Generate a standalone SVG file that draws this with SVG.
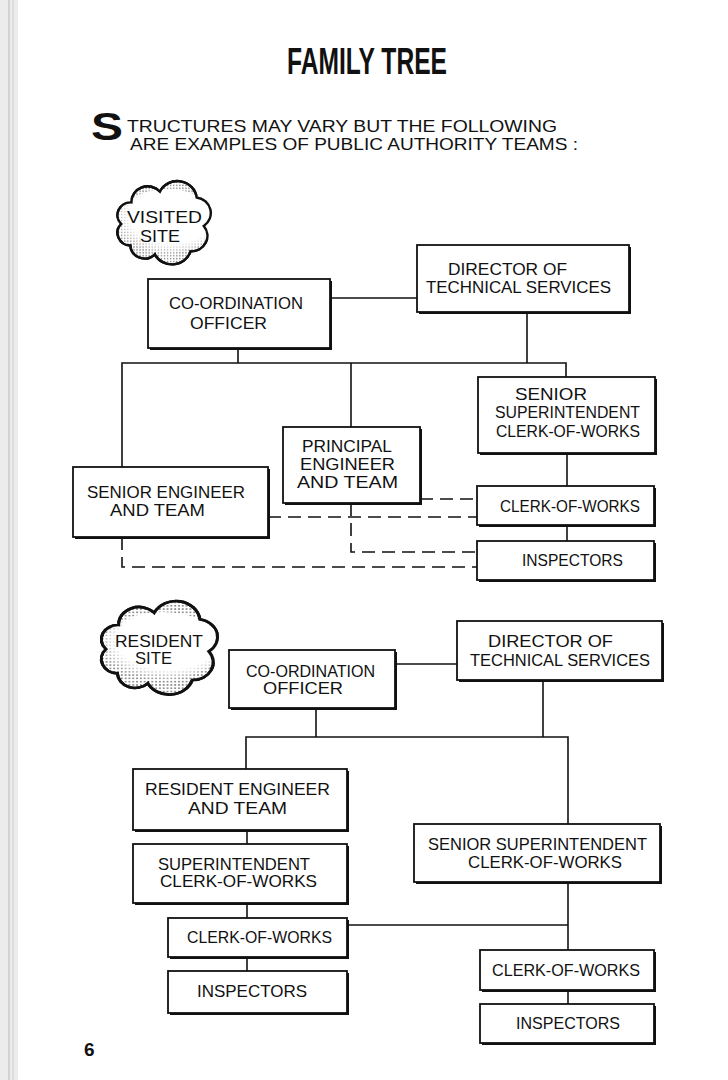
<svg xmlns="http://www.w3.org/2000/svg" width="728" height="1080" viewBox="0 0 728 1080">
<style>
.t{font-family:"Liberation Sans",Arial,sans-serif;font-size:17px;fill:#111}
.box{fill:#fff;stroke:#111;stroke-width:1.8}
.sh{fill:#111}
.ln{fill:none;stroke:#111;stroke-width:1.6}
.dash{fill:none;stroke:#111;stroke-width:1.6;stroke-dasharray:13 7}
.cloud{fill:url(#dots);stroke:#111;stroke-width:2.4;vector-effect:non-scaling-stroke}
</style>
<defs>
<pattern id="dots" width="3" height="3" patternUnits="userSpaceOnUse">
<rect width="3" height="3" fill="#fff"/>
<circle cx="1.5" cy="1.5" r="0.8" fill="#777"/>
</pattern>
<radialGradient id="wash" cx="0.55" cy="0.42" r="0.6">
<stop offset="0.7" stop-color="#fff" stop-opacity="1"/>
<stop offset="1" stop-color="#fff" stop-opacity="0"/>
</radialGradient>
<path id="cl" d="M-32,24 A13,13 0 0 1 -41,2 A13,13 0 0 1 -31,-20 A16,16 0 0 1 -3,-31 A19,19 0 0 1 33,-25 A16,16 0 0 1 40,4 A16,16 0 0 1 27,30 A19,19 0 0 1 -8,33 A14,14 0 0 1 -32,24 Z"/>
</defs>
<rect width="728" height="1080" fill="#fff"/>
<rect x="0" y="0" width="18" height="1080" fill="#ececec"/>
<line x1="9" y1="0" x2="9" y2="1080" stroke="#bbb" stroke-width="1"/>
<line x1="13" y1="0" x2="13" y2="1080" stroke="#d0d0d0" stroke-width="1"/>

<text class="t" x="287" y="74" style="font-size:36px;font-weight:bold" textLength="160" lengthAdjust="spacingAndGlyphs">FAMILY TREE</text>
<text class="t" x="91" y="140" style="font-size:38px;font-weight:bold" textLength="32" lengthAdjust="spacingAndGlyphs">S</text>
<text class="t" x="127" y="132" textLength="430" lengthAdjust="spacingAndGlyphs">TRUCTURES  MAY  VARY  BUT  THE  FOLLOWING</text>
<text class="t" x="130" y="150" textLength="448" lengthAdjust="spacingAndGlyphs">ARE  EXAMPLES  OF  PUBLIC  AUTHORITY  TEAMS :</text>

<g id="connectors">
<path class="ln" d="M330,298 H417"/>
<path class="ln" d="M238,348 V363"/>
<path class="ln" d="M527,312 V363"/>
<path class="ln" d="M122,467 V363 H566 V377"/>
<path class="ln" d="M351,363 V427"/>
<path class="ln" d="M567,453 V486"/>
<path class="ln" d="M567,525 V541"/>
<path class="dash" d="M420,499 H477"/>
<path class="dash" d="M268,517 H477"/>
<path class="dash" d="M351,503 V552 H477"/>
<path class="dash" d="M122,537 V567 H477"/>
<path class="ln" d="M395,664 H457"/>
<path class="ln" d="M316,708 V737"/>
<path class="ln" d="M543,680 V737"/>
<path class="ln" d="M246,769 V737 H568 V824"/>
<path class="ln" d="M247,830 V844"/>
<path class="ln" d="M247,903 V918"/>
<path class="ln" d="M247,957 V971"/>
<path class="ln" d="M347,925 H568"/>
<path class="ln" d="M568,882 V950"/>
<path class="ln" d="M568,990 V1004"/>
</g>

<g id="cloud-visited">
<use href="#cl" class="cloud" transform="translate(163,222) scale(1.02,0.98)"/>
<ellipse cx="167" cy="221" rx="50" ry="32" fill="url(#wash)"/>
<use href="#cl" fill="none" stroke="#111" stroke-width="2.4" transform="translate(163,222) scale(1.02,0.98)" style="vector-effect:non-scaling-stroke"/>
<text class="t" x="127" y="223" textLength="75" lengthAdjust="spacingAndGlyphs">VISITED</text>
<text class="t" x="140" y="242" textLength="40" lengthAdjust="spacingAndGlyphs">SITE</text>
</g>

<g id="coord1">
<rect class="sh" x="150" y="281" width="182" height="69"/>
<rect class="box" x="148" y="279" width="182" height="69"/>
<text class="t" x="169" y="309" textLength="134" lengthAdjust="spacingAndGlyphs">CO-ORDINATION</text>
<text class="t" x="190" y="329" textLength="77" lengthAdjust="spacingAndGlyphs">OFFICER</text>
</g>

<g id="director1">
<rect class="sh" x="419" y="247" width="212" height="67"/>
<rect class="box" x="417" y="245" width="212" height="67"/>
<text class="t" x="448" y="275" textLength="119" lengthAdjust="spacingAndGlyphs">DIRECTOR  OF</text>
<text class="t" x="426" y="293" textLength="185" lengthAdjust="spacingAndGlyphs">TECHNICAL  SERVICES</text>
</g>

<g id="seniorsupt1">
<rect class="sh" x="480" y="379" width="177" height="76"/>
<rect class="box" x="478" y="377" width="177" height="76"/>
<text class="t" x="515" y="400" textLength="72" lengthAdjust="spacingAndGlyphs">SENIOR</text>
<text class="t" x="495" y="418" textLength="145" lengthAdjust="spacingAndGlyphs">SUPERINTENDENT</text>
<text class="t" x="496" y="437" textLength="144" lengthAdjust="spacingAndGlyphs">CLERK-OF-WORKS</text>
</g>

<g id="principal">
<rect class="sh" x="285" y="429" width="137" height="76"/>
<rect class="box" x="283" y="427" width="137" height="76"/>
<text class="t" x="302" y="452" textLength="90" lengthAdjust="spacingAndGlyphs">PRINCIPAL</text>
<text class="t" x="300" y="470" textLength="95" lengthAdjust="spacingAndGlyphs">ENGINEER</text>
<text class="t" x="297" y="488" textLength="101" lengthAdjust="spacingAndGlyphs">AND  TEAM</text>
</g>

<g id="seniorengineer">
<rect class="sh" x="75" y="469" width="195" height="70"/>
<rect class="box" x="73" y="467" width="195" height="70"/>
<text class="t" x="87" y="498" textLength="158" lengthAdjust="spacingAndGlyphs">SENIOR ENGINEER</text>
<text class="t" x="110" y="516" textLength="95" lengthAdjust="spacingAndGlyphs">AND  TEAM</text>
</g>

<g id="clerk1">
<rect class="sh" x="479" y="488" width="177" height="39"/>
<rect class="box" x="477" y="486" width="177" height="39"/>
<text class="t" x="500" y="512" textLength="140" lengthAdjust="spacingAndGlyphs">CLERK-OF-WORKS</text>
</g>

<g id="inspectors1">
<rect class="sh" x="479" y="543" width="177" height="39"/>
<rect class="box" x="477" y="541" width="177" height="39"/>
<text class="t" x="522" y="566" textLength="101" lengthAdjust="spacingAndGlyphs">INSPECTORS</text>
</g>

<g id="cloud-resident">
<use href="#cl" class="cloud" transform="translate(158,647) scale(1.27,1.1)"/>
<ellipse cx="162" cy="646" rx="60" ry="34" fill="url(#wash)"/>
<use href="#cl" fill="none" stroke="#111" stroke-width="2.4" transform="translate(158,647) scale(1.27,1.1)" style="vector-effect:non-scaling-stroke"/>
<text class="t" x="115" y="647" textLength="88" lengthAdjust="spacingAndGlyphs">RESIDENT</text>
<text class="t" x="135" y="664" textLength="37" lengthAdjust="spacingAndGlyphs">SITE</text>
</g>

<g id="coord2">
<rect class="sh" x="231" y="652" width="166" height="58"/>
<rect class="box" x="229" y="650" width="166" height="58"/>
<text class="t" x="246" y="677" textLength="129" lengthAdjust="spacingAndGlyphs">CO-ORDINATION</text>
<text class="t" x="263" y="694" textLength="80" lengthAdjust="spacingAndGlyphs">OFFICER</text>
</g>

<g id="director2">
<rect class="sh" x="459" y="623" width="205" height="59"/>
<rect class="box" x="457" y="621" width="205" height="59"/>
<text class="t" x="488" y="647" textLength="125" lengthAdjust="spacingAndGlyphs">DIRECTOR  OF</text>
<text class="t" x="470" y="666" textLength="180" lengthAdjust="spacingAndGlyphs">TECHNICAL  SERVICES</text>
</g>

<g id="residentengineer">
<rect class="sh" x="135" y="771" width="214" height="61"/>
<rect class="box" x="133" y="769" width="214" height="61"/>
<text class="t" x="145" y="795" textLength="185" lengthAdjust="spacingAndGlyphs">RESIDENT  ENGINEER</text>
<text class="t" x="188" y="814" textLength="99" lengthAdjust="spacingAndGlyphs">AND  TEAM</text>
</g>

<g id="superintendent">
<rect class="sh" x="135" y="846" width="214" height="59"/>
<rect class="box" x="133" y="844" width="214" height="59"/>
<text class="t" x="158" y="870" textLength="152" lengthAdjust="spacingAndGlyphs">SUPERINTENDENT</text>
<text class="t" x="160" y="887" textLength="157" lengthAdjust="spacingAndGlyphs">CLERK-OF-WORKS</text>
</g>

<g id="clerk2">
<rect class="sh" x="170" y="920" width="179" height="39"/>
<rect class="box" x="168" y="918" width="179" height="39"/>
<text class="t" x="187" y="943" textLength="145" lengthAdjust="spacingAndGlyphs">CLERK-OF-WORKS</text>
</g>

<g id="inspectors2">
<rect class="sh" x="170" y="973" width="179" height="42"/>
<rect class="box" x="168" y="971" width="179" height="42"/>
<text class="t" x="197" y="997" textLength="110" lengthAdjust="spacingAndGlyphs">INSPECTORS</text>
</g>

<g id="seniorsupt2">
<rect class="sh" x="416" y="826" width="246" height="58"/>
<rect class="box" x="414" y="824" width="246" height="58"/>
<text class="t" x="428" y="850" textLength="219" lengthAdjust="spacingAndGlyphs">SENIOR  SUPERINTENDENT</text>
<text class="t" x="468" y="868" textLength="154" lengthAdjust="spacingAndGlyphs">CLERK-OF-WORKS</text>
</g>

<g id="clerk3">
<rect class="sh" x="482" y="952" width="174" height="40"/>
<rect class="box" x="480" y="950" width="174" height="40"/>
<text class="t" x="492" y="976" textLength="148" lengthAdjust="spacingAndGlyphs">CLERK-OF-WORKS</text>
</g>

<g id="inspectors3">
<rect class="sh" x="482" y="1006" width="174" height="39"/>
<rect class="box" x="480" y="1004" width="174" height="39"/>
<text class="t" x="516" y="1029" textLength="104" lengthAdjust="spacingAndGlyphs">INSPECTORS</text>
</g>

<text class="t" x="84" y="1056" style="font-size:19px;font-weight:bold">6</text>
</svg>
